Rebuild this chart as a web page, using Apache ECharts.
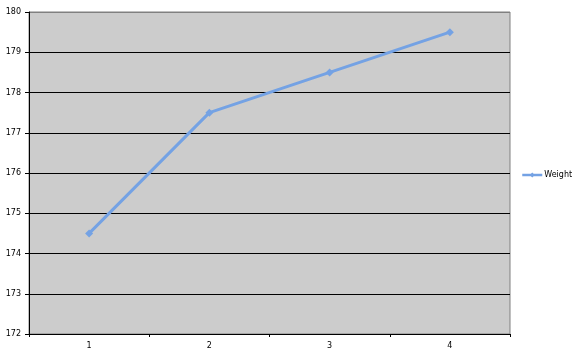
<!DOCTYPE html>
<html><head><meta charset="utf-8">
<script src="https://cdn.jsdelivr.net/npm/echarts@6/dist/echarts.min.js"></script>
<style>html,body{margin:0;padding:0;background:#fff}#c{width:575px;height:355px}</style>
</head><body><div id="c"></div>
<script>
const categories = ['1','2','3','4'];
const weight = [174.5, 177.5, 178.5, 179.5];
const seriesName = 'Weight';

const chart = echarts.init(document.getElementById('c'), null, {renderer:'canvas'});
const font = '"DejaVu Sans", Verdana, sans-serif';
chart.setOption({
  animation:false,
  backgroundColor:'#ffffff',
  grid:{left:29, right:65, top:12, bottom:21, show:true, backgroundColor:'#cccccc', borderColor:'#808080', borderWidth:1},
  legend:{
    data:[seriesName], orient:'vertical', left:521, top:171, padding:0,
    itemWidth:20, itemHeight:6, itemGap:4,
    lineStyle:{width:2.5},
    textStyle:{fontFamily:font, fontSize:8, color:'#000', padding:[0,0,0,-3]}
  },
  xAxis:{
    type:'category', data:categories, boundaryGap:true,
    axisLine:{lineStyle:{color:'#000', width:1}},
    axisTick:{show:true, length:3, lineStyle:{color:'#000'}},
    axisLabel:{fontFamily:font, fontSize:8, color:'#000', margin:8},
    splitLine:{show:false}
  },
  yAxis:{
    type:'value', min:172, max:180, interval:1,
    axisLine:{show:true, lineStyle:{color:'#000', width:1}},
    axisTick:{show:true, length:4, lineStyle:{color:'#000'}},
    axisLabel:{fontFamily:font, fontSize:8, color:'#000', margin:8},
    splitLine:{show:true, lineStyle:{color:['#000','#000','#000','#000','#000','#000','#000','#000','#808080'], width:1}}
  },
  series:[{
    name:seriesName, type:'line', data:weight,
    symbol:'diamond', symbolSize:8, showAllSymbol:true,
    lineStyle:{color:'#74a2e4', width:3},
    itemStyle:{color:'#74a2e4'}
  }]
});
</script></body></html>
